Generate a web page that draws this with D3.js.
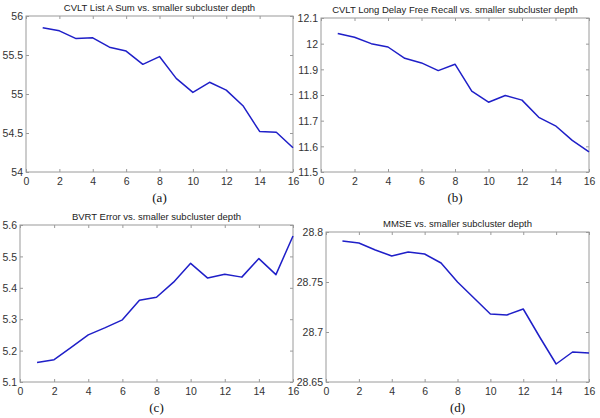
<!DOCTYPE html>
<html>
<head>
<meta charset="utf-8">
<script src="https://cdn.jsdelivr.net/npm/d3@7"></script>
<style>
  body { margin: 0; background: #fff; }
  .tick text { font-family: "Liberation Sans", Arial, sans-serif; font-size: 10.5px; fill: #333; }
</style>
</head>
<body>
<div id="chart"></div>
<script>
// Data
var depth = d3.range(1, 17);

var cvltSum  = [55.85, 55.81, 55.71, 55.72, 55.60, 55.55, 55.38, 55.48, 55.20, 55.02, 55.15, 55.05, 54.85, 54.52, 54.51, 54.31];
var cvltLong = [12.04, 12.025, 12.0, 11.987, 11.943, 11.925, 11.895, 11.92, 11.815, 11.772, 11.798, 11.78, 11.713, 11.68, 11.623, 11.578];
var bvrt     = [5.162, 5.171, 5.21, 5.25, 5.273, 5.298, 5.36, 5.37, 5.418, 5.478, 5.431, 5.443, 5.434, 5.493, 5.442, 5.565];
var mmse     = [28.791, 28.789, 28.782, 28.776, 28.780, 28.778, 28.769, 28.750, 28.734, 28.718, 28.717, 28.723, 28.695, 28.668, 28.680, 28.679];

var titles   = ["CVLT List A Sum vs. smaller subcluster depth",
                "CVLT Long Delay Free Recall vs. smaller subcluster depth",
                "BVRT Error vs. smaller subcluster depth",
                "MMSE vs. smaller subcluster depth"];
var captions = ["(a)", "(b)", "(c)", "(d)"];
var xTicks   = [0, 2, 4, 6, 8, 10, 12, 14, 16];
var yTicksA  = [54, 54.5, 55, 55.5, 56];
var yTicksB  = [11.5, 11.6, 11.7, 11.8, 11.9, 12, 12.1];
var yTicksC  = [5.1, 5.2, 5.3, 5.4, 5.5, 5.6];
var yTicksD  = [28.65, 28.7, 28.75, 28.8];

// Parameters
var width = 600, height = 418,
    axisColor = "#9a9a9a",
    lineColor = "#1f1fc8";

var panels = [
  { values: cvltSum,  ticks: yTicksA, domain: [54, 56],      box: [26, 16, 293, 172] },
  { values: cvltLong, ticks: yTicksB, domain: [11.5, 12.1],  box: [321, 18, 589, 172] },
  { values: bvrt,     ticks: yTicksC, domain: [5.1, 5.6],    box: [20, 225, 293, 382] },
  { values: mmse,     ticks: yTicksD, domain: [28.65, 28.8], box: [326, 232, 589, 382] }
];

var svg = d3.select("#chart").append("svg")
    .attr("width", width)
    .attr("height", height);

panels.forEach(function(p, i) {
  var x0 = p.box[0], y0 = p.box[1], x1 = p.box[2], y1 = p.box[3];

  var x = d3.scaleLinear().domain([0, 16]).range([x0, x1]);
  var y = d3.scaleLinear().domain(p.domain).range([y1, y0]);

  var g = svg.append("g");

  // box
  g.append("rect")
      .attr("x", x0).attr("y", y0)
      .attr("width", x1 - x0).attr("height", y1 - y0)
      .attr("fill", "none")
      .attr("stroke", axisColor)
      .attr("stroke-width", 1);

  var fmt = function(d) { return String(+d.toFixed(2)); };

  // bottom & left axes with labels, ticks pointing in
  var xb = g.append("g").attr("transform", "translate(0," + y1 + ")")
      .call(d3.axisBottom(x).tickValues(xTicks).tickSize(-3).tickPadding(6).tickFormat(fmt));
  var yl = g.append("g").attr("transform", "translate(" + x0 + ",0)")
      .call(d3.axisLeft(y).tickValues(p.ticks).tickSize(-3).tickPadding(3).tickFormat(fmt));
  // top & right ticks only
  var xt = g.append("g").attr("transform", "translate(0," + y0 + ")")
      .call(d3.axisTop(x).tickValues(xTicks).tickSize(-3).tickFormat(""));
  var yr = g.append("g").attr("transform", "translate(" + x1 + ",0)")
      .call(d3.axisRight(y).tickValues(p.ticks).tickSize(-3).tickFormat(""));

  [xb, yl, xt, yr].forEach(function(a) {
    a.select(".domain").remove();
    a.selectAll(".tick line").attr("stroke", axisColor);
  });
  yl.selectAll(".tick text").attr("dy", "0.35em");

  // line
  g.append("path")
      .datum(depth)
      .attr("fill", "none")
      .attr("stroke", lineColor)
      .attr("stroke-width", 1.5)
      .attr("stroke-linejoin", "round")
      .attr("d", d3.line()
        .x(function(d) { return x(d); })
        .y(function(d, j) { return y(p.values[j]); }));

  // title
  g.append("text")
      .attr("x", (x0 + x1) / 2)
      .attr("y", y0 - 5)
      .attr("text-anchor", "middle")
      .style("font-family", "Liberation Sans, Arial, sans-serif")
      .style("font-size", "9.5px")
      .style("fill", "#222")
      .text(titles[i]);

  // caption
  g.append("text")
      .attr("x", (x0 + x1) / 2)
      .attr("y", y1 + 30)
      .attr("text-anchor", "middle")
      .style("font-family", "Liberation Serif, Times New Roman, serif")
      .style("font-size", "13px")
      .style("fill", "#111")
      .text(captions[i]);
});
</script>
</body>
</html>
